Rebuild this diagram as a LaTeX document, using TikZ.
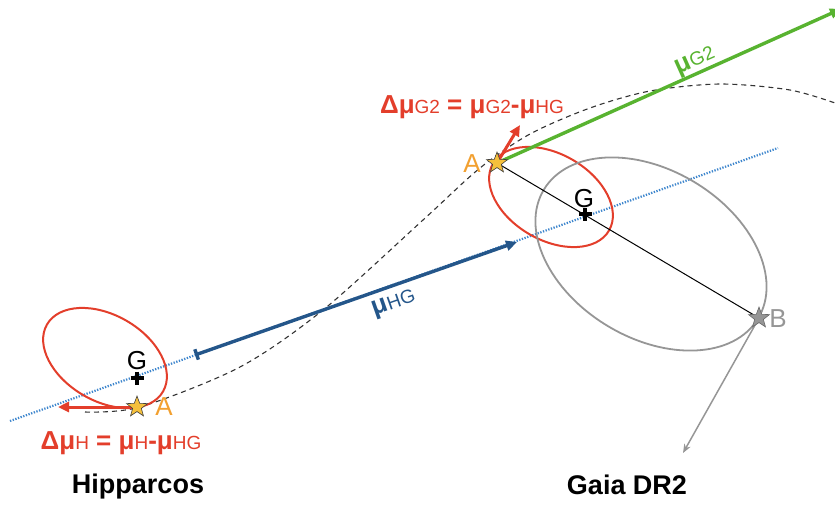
\documentclass[tikz,border=0pt]{standalone}
\usepackage{fontspec}
\setmainfont{Liberation Sans}
\usetikzlibrary{arrows.meta, positioning, shapes.geometric}

\definecolor{deltared}{RGB}{227,62,43}
\definecolor{hgblue}{RGB}{36,86,138}
\definecolor{dotblue}{RGB}{62,134,205}
\definecolor{gtwogreen}{RGB}{88,179,48}
\definecolor{aorange}{RGB}{242,160,48}
\definecolor{agold}{RGB}{245,192,60}
\definecolor{bgray}{RGB}{150,150,150}

\newcommand{\pmsym}[1]{{\bfseries μ}{\mdseries\fontsize{19}{19}\selectfont #1}}

\begin{document}
\begin{tikzpicture}[x=1pt, y=-1pt, thick,
  errell/.style={draw=deltared, line width=2pt},
  deltavec/.style={draw=deltared, line width=3pt, -{Triangle[length=11pt, width=10pt]}},
  starmark/.style={star, star points=5, star point ratio=2.4, minimum size=22pt, inner sep=0pt, draw=black!75, line width=0.6pt},
  letter/.style={font=\fontsize{26}{26}\selectfont, inner sep=0pt, anchor=base},
  formula/.style={font=\fontsize{26}{26}\selectfont, inner sep=0pt, anchor=base},
  veclabel/.style={font=\fontsize{26}{26}\selectfont, inner sep=0pt, sloped},
  mission/.style={font=\bfseries\fontsize{27}{27}\selectfont, inner sep=0pt, anchor=base},
  pluscross/.style={line width=3.4pt}]
\useasboundingbox (0,0) rectangle (835,504);

% positions
\coordinate (hA) at (137,407);
\coordinate (hG) at (137,378);
\coordinate (gA) at (497,163);
\coordinate (gG) at (585,214);
\coordinate (gB) at (759,318);
\coordinate (hgs) at (195,355);
\coordinate (hgt) at (517,242);
\coordinate (gtip) at (841,9);
\coordinate (btip) at (683,453);
\coordinate (hdtip) at (58,407);
\coordinate (gdtip) at (520,125);

% track of the source
\draw[black!80, line width=1.1pt, dash pattern=on 5pt off 4pt] plot[smooth] coordinates {(85,412) (140,407) (240,367) (323,310) (423,220) (480,168) (530,134) (590,108) (650,91) (720,84) (790,90) (838,104)};
\draw[dotblue, line width=2.2pt, dash pattern=on 1.3pt off 1.5pt] (10,421) -- (778,148);

% error ellipses
\draw[errell] (105,358) ellipse [x radius=67pt, y radius=43pt, rotate=-30];
\draw[errell] (551,197) ellipse [x radius=67pt, y radius=43pt, rotate=-30];
\draw[bgray, line width=1.8pt] (651,254) ellipse [x radius=125pt, y radius=84pt, rotate=-31];

% vectors
\draw[black, line width=1pt] (gA) -- (gB);
\draw[bgray, line width=1.5pt, -{Stealth[length=9pt, width=7pt]}] (gB) -- (btip);
\draw[hgblue, line width=3.4pt, {Bar[width=11pt]}-{Triangle[length=11pt, width=10pt]}] (hgs) -- (hgt)
  node (hglab) [veclabel, below=7pt, pos=0.6, text=hgblue] {\pmsym{HG}};
\draw[gtwogreen, line width=3.4pt, -{Triangle[length=11pt, width=10pt]}] (gA) -- (gtip)
  node (g2lab) [veclabel, above, pos=0.59, text=gtwogreen] {\pmsym{G2}};
\draw[deltavec] (hA) -- (hdtip);
\draw[deltavec] (gA) -- (gdtip);

% photocentres
\draw[pluscross] (hG) +(-6.5,0) -- +(6.5,0) (hG) +(0,-6.5) -- +(0,6.5);
\draw[pluscross] (gG) +(-6.5,0) -- +(6.5,0) (gG) +(0,-6.5) -- +(0,6.5);
\node (hGlab) [letter] at (137,369) {G};
\node (gGlab) [letter] at (584,207) {G};

% stars
\node (hstar) [starmark, fill=agold] at (hA) {};
\node (gstar) [starmark, fill=agold] at (gA) {};
\node (bstar) [starmark, fill=bgray, draw=bgray!70!black] at (gB) {};
\node (hAlab) [letter, text=aorange] at (164,415) {A};
\node (gAlab) [letter, text=aorange] at (472,172) {A};
\node (gBlab) [letter, text=bgray] at (778,327) {B};

% formulas
\node (hdelta) [formula, text=deltared] at (121,449) {{\bfseries Δ}\pmsym{H} {\bfseries =} \pmsym{H}{\bfseries -}\pmsym{HG}};
\node (gdelta) [formula, text=deltared] at (472,113) {{\bfseries Δ}\pmsym{G2} {\bfseries =} \pmsym{G2}{\bfseries -}\pmsym{HG}};

% missions
\node (hip) [mission] at (138,493) {Hipparcos};
\node (gaia) [mission] at (627,494) {Gaia DR2};
\end{tikzpicture}
\end{document}
